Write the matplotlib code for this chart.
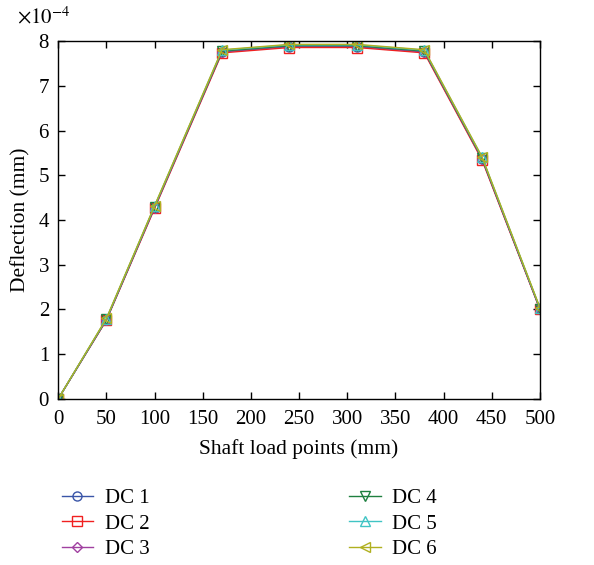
import matplotlib.pyplot as plt
from matplotlib.ticker import ScalarFormatter

plt.rcParams['font.family'] = ['Liberation Serif', 'DejaVu Serif']
plt.rcParams['mathtext.fontset'] = 'stix'

# load points along the shaft (mm)
x = [0, 50, 100, 170, 240, 310, 380, 440, 500]

# deflection (mm) for each design case
dc1 = [0, 1.77e-4, 4.28e-4, 7.76e-4, 7.88e-4, 7.88e-4, 7.76e-4, 5.36e-4, 2.01e-4]
dc2 = [0, 1.76e-4, 4.26e-4, 7.74e-4, 7.86e-4, 7.86e-4, 7.74e-4, 5.34e-4, 2.00e-4]
dc3 = [0, 1.77e-4, 4.28e-4, 7.77e-4, 7.89e-4, 7.89e-4, 7.77e-4, 5.37e-4, 2.01e-4]
dc4 = [0, 1.78e-4, 4.30e-4, 7.78e-4, 7.90e-4, 7.90e-4, 7.78e-4, 5.38e-4, 2.02e-4]
dc5 = [0, 1.79e-4, 4.31e-4, 7.80e-4, 7.92e-4, 7.92e-4, 7.80e-4, 5.40e-4, 2.03e-4]
dc6 = [0, 1.80e-4, 4.32e-4, 7.81e-4, 7.93e-4, 7.93e-4, 7.81e-4, 5.41e-4, 2.04e-4]

labels = ['DC 1', 'DC 2', 'DC 3', 'DC 4', 'DC 5', 'DC 6']
colors = ['#3a55a8', '#f02020', '#a040a0', '#1f8040', '#40c4c4', '#b0b020']
markers = ['o', 's', 'D', 'v', '^', '<']

fig = plt.figure(figsize=(5.94, 5.65), dpi=100)
ax = fig.add_axes([0.098, 0.294, 0.811, 0.633])

handles = []
for y, lab, c, m in zip([dc1, dc2, dc3, dc4, dc5, dc6], labels, colors, markers):
    ms = 5 if m == 'D' else 6.5
    h, = ax.plot(x, y, color=c, marker=m, markersize=ms, markerfacecolor='none',
                 markeredgecolor=c, linewidth=1.0, label=lab)
    handles.append(h)

ax.set_xlim(0, 500)
ax.set_ylim(0, 8e-4)
ax.set_xticks(range(0, 501, 50))
ax.set_yticks([i * 1e-4 for i in range(9)])
fmt = ScalarFormatter(useMathText=True)
fmt.set_powerlimits((0, 0))
ax.yaxis.set_major_formatter(fmt)
ax.yaxis.get_offset_text().set_visible(False)
ax.text(-0.085, 1.035, r'$\times10^{-4}$', transform=ax.transAxes, fontsize=15,
        ha='left', va='bottom')

ax.tick_params(direction='in', top=True, right=True, labelsize=15, length=5, width=1)
ax.tick_params(axis='x', pad=8)
ax.tick_params(axis='y', pad=6)
for s in ax.spines.values():
    s.set_linewidth(1.0)

ax.set_xlabel('Shaft load points (mm)', fontsize=15.5, labelpad=7)
ax.set_ylabel('Deflection (mm)', fontsize=15.5, labelpad=5)

# legend laid out the same way as the original: two columns below the plot
fig.legend(handles=handles, labels=labels, loc='upper left', bbox_to_anchor=(0.09, 0.15),
           ncol=2, frameon=False, fontsize=15, columnspacing=9.6, handlelength=1.5,
           handletextpad=0.55, labelspacing=0.28, borderaxespad=0)

fig.savefig('out.png', dpi=100)
